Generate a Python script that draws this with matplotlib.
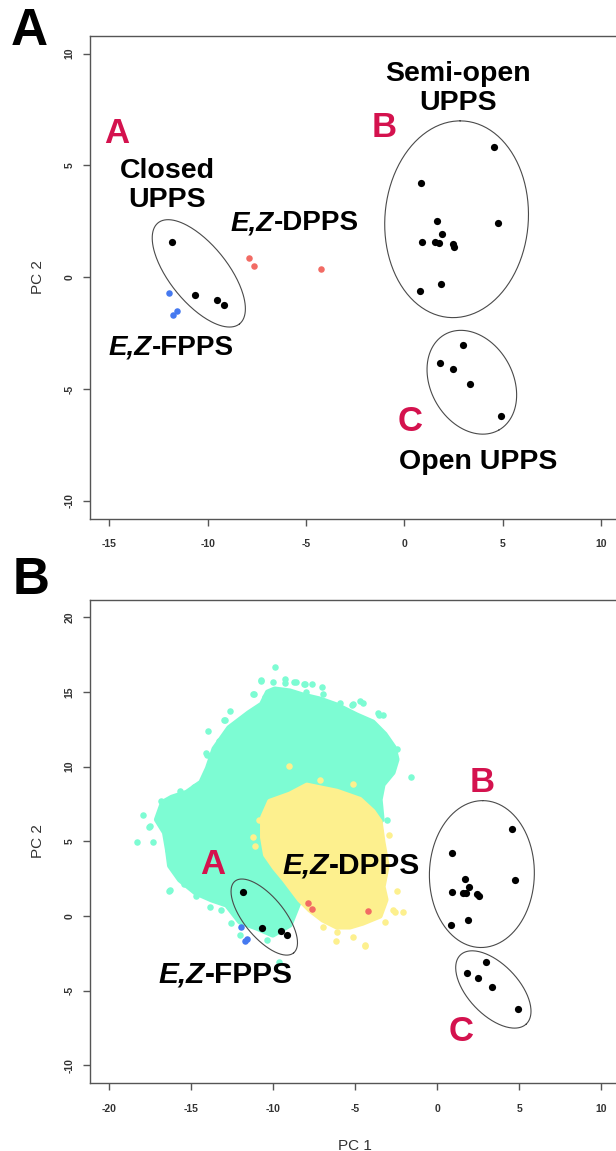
import numpy as np
import matplotlib
matplotlib.use('Agg')
import matplotlib.pyplot as plt
from matplotlib.patches import Polygon
from matplotlib.offsetbox import TextArea, HPacker, AnnotationBbox

plt.rcParams['font.family'] = ['Liberation Sans', 'DejaVu Sans']

# UPPS crystal structures (black)
upps_pc1 = [-11.82, -10.66, -9.52, -9.18, 4.58, 0.87, 1.67, 4.74, 1.91, 0.91, 1.57, 1.77,
            2.45, 2.53, 0.81, 1.85, 3.00, 1.81, 2.49, 3.35, 4.92]
upps_pc2 = [1.59, -0.80, -1.00, -1.24, 5.82, 4.23, 2.51, 2.40, 1.92, 1.59, 1.57, 1.54,
            1.49, 1.35, -0.60, -0.29, -3.05, -3.82, -4.12, -4.76, -6.22]

# E,Z-DPPS (red) and E,Z-FPPS (blue)
dpps_pc1 = [-7.89, -7.63, -4.23]
dpps_pc2 = [0.85, 0.50, 0.36]
fpps_pc1 = [-11.98, -11.58, -11.74]
fpps_pc2 = [-0.71, -1.52, -1.67]

# MD trajectory cloud (cyan): dense outline + sparse edge frames
md1_outline_x = [-9.91, -8.99, -8.20, -7.16, -6.13, -4.91, -3.93, -3.20, -2.65, -2.47, -2.71,
                 -3.32, -3.50, -3.38, -4.72, -8.38, -8.99, -10.03, -11.01, -12.04, -12.84,
                 -13.75, -14.73, -15.70, -16.31, -16.44, -16.62, -17.11, -16.74, -16.19,
                 -15.28, -14.40, -14.00, -13.60, -12.70, -11.50, -10.70, -10.34]
md1_outline_y = [15.19, 15.06, 14.79, 14.52, 14.12, 13.45, 12.98, 12.17, 11.30, 10.49, 9.62,
                 8.81, 7.80, 6.46, 5.12, 1.09, -0.59, -1.26, -0.79, -0.38, 0.75, 1.09, 1.56,
                 2.43, 3.37, 4.45, 5.59, 6.46, 7.60, 7.94, 8.27, 8.95, 9.90, 11.20, 12.60,
                 13.60, 14.18, 14.99]
md1_edge_x = [-9.90, -10.74, -10.02, -9.30, -8.71, -8.11, -7.63, -7.03, -11.15, -5.11, -4.51,
              -3.55, -13.98, -13.02, -14.10, -14.82, -15.66, -16.86, -17.94, -17.58, -18.30,
              -17.34, -16.38, -16.38, -15.42, -1.63, -13.86, -9.66, -2.71, -3.07,
              -10.72, -9.31, -11.23, -10.52, -12.66, -12.96, -13.31, -14.04, -14.08, -14.73,
              -15.70, -16.72, -8.63, -8.08, -8.02, -6.96, -5.94, -5.23, -4.73, -3.61, -3.30,
              -2.48, -3.50, -17.54, -16.82, -16.42, -16.11, -16.31, -15.50, -14.69, -13.16,
              -12.55, -12.04, -10.41]
md1_edge_y = [16.66, 15.77, 15.70, 15.87, 15.67, 15.52, 15.57, 15.37, 14.89, 14.18, 14.30,
              13.47, 12.41, 13.11, 10.89, 8.61, 8.35, 7.72, 6.76, 5.95, 4.99, 4.99, 4.43,
              1.65, 2.15, 9.32, 0.63, -3.11, 10.13, 6.46,
              15.82, 15.61, 14.90, 14.70, 13.73, 13.11, 11.72, 10.78, 9.37, 8.70,
              8.14, 7.62, 15.68, 15.53, 15.04, 14.86, 14.30, 14.12, 14.41, 13.58, 13.45,
              11.16, 8.59, 6.01, 6.41, 4.45, 3.78, 1.77, 2.45, 1.31, 0.42,
              -0.48, -1.26, -1.60]

# MD trajectory cloud (yellow)
md2_outline_x = [-7.95, -6.12, -4.72, -3.93, -3.50, -3.32, -3.07, -3.32, -3.14, -3.50, -4.54,
                 -5.33, -6.13, -6.98, -7.77, -8.38, -9.30, -9.91, -10.46, -10.64, -10.64,
                 -10.21, -8.99]
md2_outline_y = [8.75, 8.34, 7.80, 7.00, 6.32, 4.91, 3.37, 1.96, 1.09, 0.01, -0.46, -0.72,
                 -0.72, -0.25, 0.42, 1.09, 2.43, 3.24, 4.11, 5.26, 6.60, 7.67, 8.15]
md2_edge_x = [-9.02, -10.86, -11.10, -7.15, -5.11, -3.48, -2.95, -2.59, -2.11, -4.39, -6.19,
              -3.19, -2.47, -11.22, -2.69, -5.13, -4.42, -6.14, -6.96]
md2_edge_y = [10.05, 6.46, 4.68, 9.11, 8.86, 5.70, 5.44, 0.25, 0.25, -2.03, -1.65, -0.38,
              1.65, 5.32, 0.42, -1.38, -1.93, -1.04, -0.71]

# cluster ellipses: centre and two conjugate semi-axes (data units)
ellipses_a = [((-10.45, 0.17), (2.07, -2.26), (1.15, 0.81)),
              ((2.655, 2.59), (0.18, 4.40), (3.65, 0.0)),
              ((3.43, -4.70), (1.37, -2.14), (1.82, 0.90))]
ellipses_b = [((-10.55, -0.07), (1.79, -2.40), (0.95, 0.86)),
              ((2.72, 2.81), (0.05, 4.92), (3.20, 0.0)),
              ((3.42, -4.92), (2.01, -2.31), (1.11, 1.17))]

CYAN = '#7DFCD3'
YELLOW = '#FDF08E'
RED = '#F26B64'
BLUE = '#4579F0'
CRIMSON = '#D4124E'
AXCOL = '#555555'


def ez_label(ax, x, y, rest, size):
    parts = [TextArea('E,Z', textprops=dict(fontsize=size, fontweight='bold', fontstyle='italic')),
             TextArea(rest, textprops=dict(fontsize=size, fontweight='bold'))]
    box = HPacker(children=parts, pad=0, sep=0, align='baseline')
    ab = AnnotationBbox(box, (x, y), frameon=False, box_alignment=(0.5, 0.5), pad=0, zorder=6)
    ax.add_artist(ab)


def draw_ellipses(ax, ells):
    t = np.linspace(0, 2 * np.pi, 200)
    for (cx, cy), (ux, uy), (vx, vy) in ells:
        ax.plot(cx + ux * np.cos(t) + vx * np.sin(t), cy + uy * np.cos(t) + vy * np.sin(t),
                color='#4a4a4a', lw=0.8, zorder=5)


def style_axes(ax, xt, yt):
    for s in ax.spines.values():
        s.set_color(AXCOL)
        s.set_linewidth(1.0)
    ax.set_xticks(xt)
    ax.set_yticks(yt)
    ax.set_xticklabels([str(v) for v in xt], fontsize=7.5, fontweight='bold', color='#333333')
    ax.set_yticklabels([str(v) for v in yt], fontsize=7.5, fontweight='bold', color='#333333',
                       rotation=90, va='center')
    ax.tick_params(axis='x', length=5, width=1, color=AXCOL, pad=10)
    ax.tick_params(axis='y', length=5, width=1, color=AXCOL, pad=6)
    ax.set_ylabel('PC 2', fontsize=11, color='#333333', labelpad=14)


def draw_points(ax):
    ax.scatter(dpps_pc1, dpps_pc2, s=22, color=RED, lw=0, zorder=4)
    ax.scatter(fpps_pc1, fpps_pc2, s=22, color=BLUE, lw=0, zorder=4)
    ax.scatter(upps_pc1, upps_pc2, s=27, color='black', lw=0, zorder=4)


fig = plt.figure(figsize=(6.16, 11.51), dpi=100)

# ---- panel A ----
axA = fig.add_axes([0.1455, 0.5494, 0.8622, 0.4196])
axA.set_xlim(-16, 11)
axA.set_ylim(-10.8, 10.8)
draw_points(axA)
draw_ellipses(axA, ellipses_a)
style_axes(axA, [-15, -10, -5, 0, 5, 10], [-10, -5, 0, 5, 10])

txtA = dict(fontsize=20.5, fontweight='bold', ha='center', va='center', zorder=6)
axA.text(-14.64, 6.42, 'A', color=CRIMSON, fontsize=25, fontweight='bold', ha='center', va='center')
axA.text(-12.04, 4.09, 'Closed\nUPPS', linespacing=1.15, **txtA)
axA.text(2.71, 8.45, 'Semi-open\nUPPS', linespacing=1.15, **txtA)
axA.text(-1.03, 6.68, 'B', color=CRIMSON, fontsize=25, fontweight='bold', ha='center', va='center')
axA.text(0.31, -6.46, 'C', color=CRIMSON, fontsize=25, fontweight='bold', ha='center', va='center')
axA.text(3.77, -8.28, 'Open UPPS', **txtA)
ez_label(axA, -5.58, 2.40, '-DPPS', 20)
ez_label(axA, -11.84, -3.15, '-FPPS', 20)

# ---- panel B ----
axB = fig.add_axes([0.1455, 0.0589, 0.8625, 0.4202])
axB.set_xlim(-21.2, 11.2)
axB.set_ylim(-11.2, 21.2)
axB.add_patch(Polygon(np.column_stack([md1_outline_x, md1_outline_y]), closed=True,
                      facecolor=CYAN, edgecolor=CYAN, lw=4, joinstyle='round', zorder=1))
axB.scatter(md1_edge_x, md1_edge_y, s=22, color=CYAN, lw=0, zorder=1)
axB.add_patch(Polygon(np.column_stack([md2_outline_x, md2_outline_y]), closed=True,
                      facecolor=YELLOW, edgecolor=YELLOW, lw=4, joinstyle='round', zorder=2))
axB.scatter(md2_edge_x, md2_edge_y, s=22, color=YELLOW, lw=0, zorder=2)
draw_points(axB)
draw_ellipses(axB, ellipses_b)
style_axes(axB, [-20, -15, -10, -5, 0, 5, 10], [-10, -5, 0, 5, 10, 15, 20])
axB.set_xlabel('PC 1', fontsize=11, color='#333333', labelpad=14)
axB.xaxis.set_label_coords(0.5, -0.115)

axB.text(-13.67, 3.42, 'A', color=CRIMSON, fontsize=25, fontweight='bold', ha='center', va='center')
axB.text(2.75, 8.94, 'B', color=CRIMSON, fontsize=25, fontweight='bold', ha='center', va='center')
axB.text(1.48, -7.72, 'C', color=CRIMSON, fontsize=25, fontweight='bold', ha='center', va='center')
ez_label(axB, -5.23, 3.37, '-DPPS', 21.5)
ez_label(axB, -12.90, -3.92, '-FPPS', 21.5)

# panel letters
fig.text(0.047, 0.973, 'A', fontsize=37, fontweight='bold', ha='center', va='center')
fig.text(0.050, 0.496, 'B', fontsize=37, fontweight='bold', ha='center', va='center')

fig.savefig('out.png', dpi=100)
